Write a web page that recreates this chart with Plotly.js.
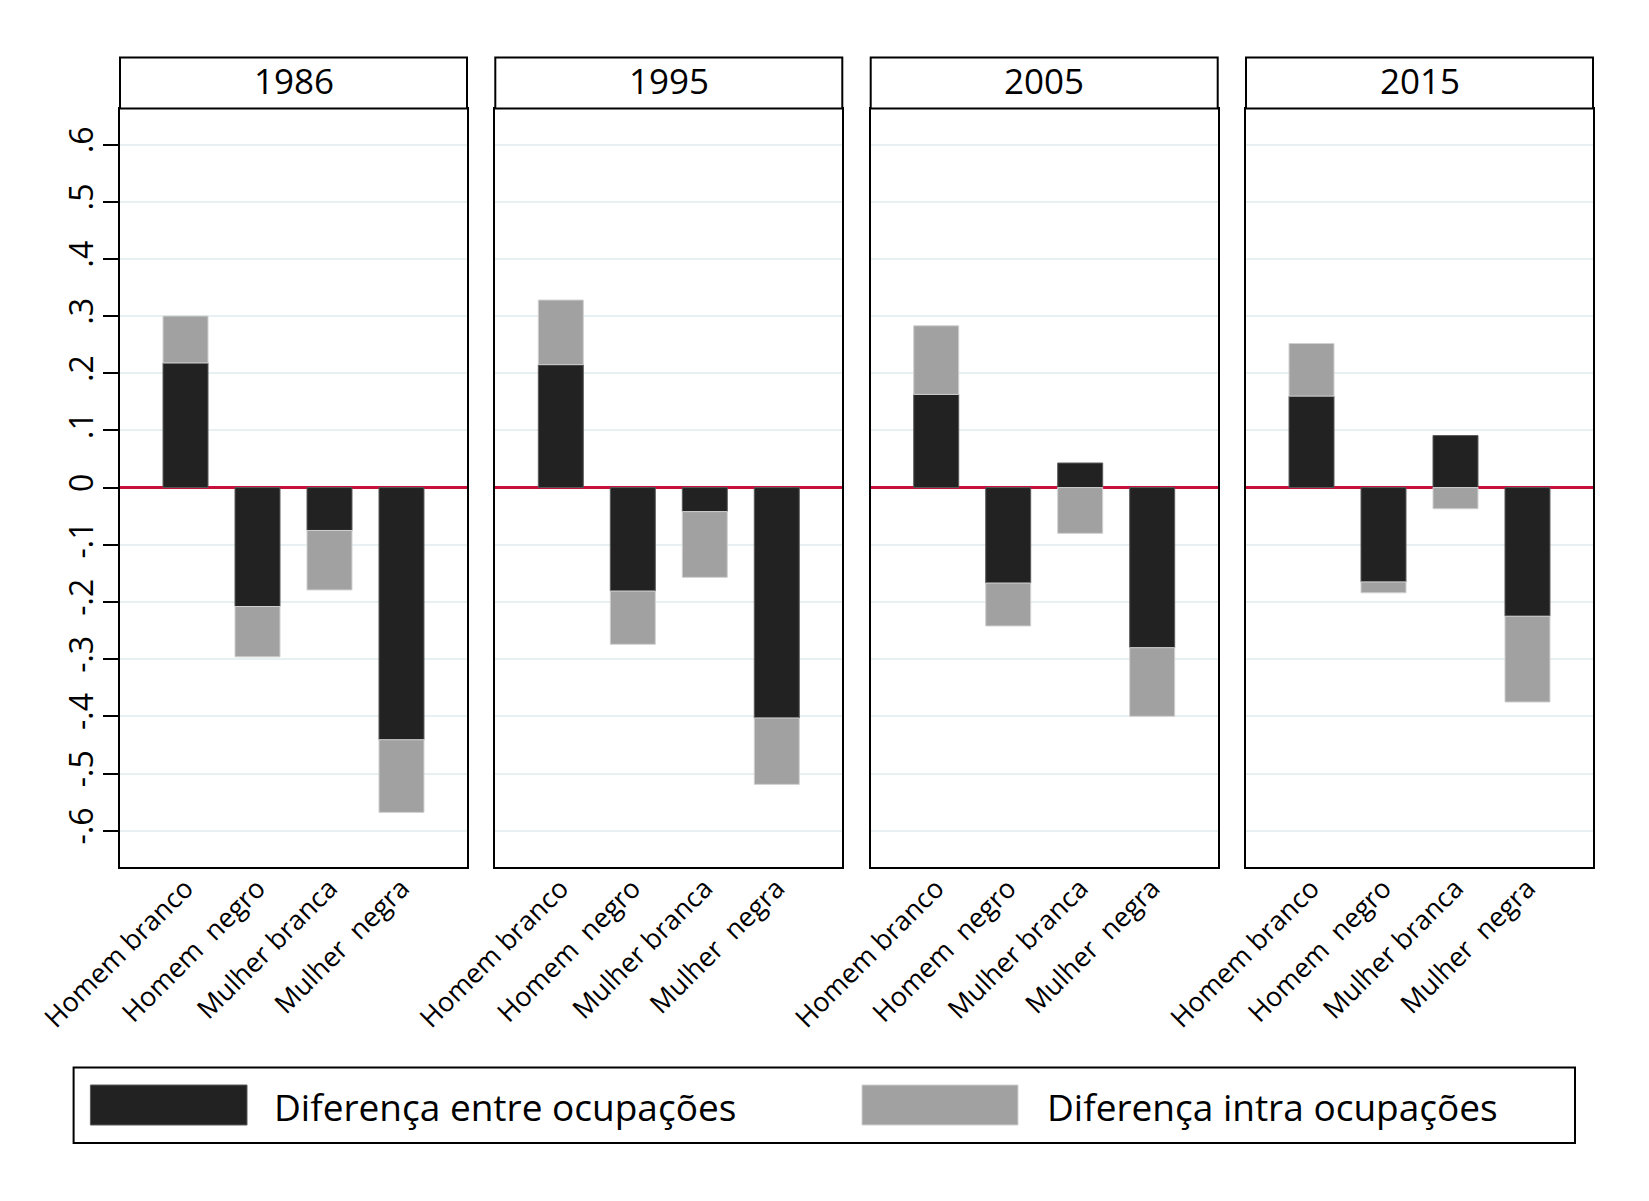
<!DOCTYPE html>
<html>
<head>
<meta charset="utf-8">
<script src="https://cdn.plot.ly/plotly-3.0.1.min.js"></script>
<style>
  html, body { margin: 0; padding: 0; background: #fff; }
  #grafico { width: 1649px; height: 1201px; }
</style>
</head>
<body>
<div id="grafico"></div>
<script>
// dados
const anos = ['1986', '1995', '2005', '2015'];
const grupos = ['Homem branco', 'Homem\u00a0 negro', 'Mulher branca', 'Mulher\u00a0 negra'];

const entre1986 = [0.218, -0.208, -0.075, -0.441];
const intra1986 = [0.082, -0.088, -0.104, -0.127];
const entre1995 = [0.215, -0.181, -0.042, -0.403];
const intra1995 = [0.113, -0.093, -0.115, -0.116];
const entre2005 = [0.163, -0.167, 0.043, -0.280];
const intra2005 = [0.120, -0.075, -0.080, -0.120];
const entre2015 = [0.160, -0.165, 0.091, -0.225];
const intra2015 = [0.092, -0.019, -0.037, -0.150];

const yTicks = [0.6, 0.5, 0.4, 0.3, 0.2, 0.1, 0, -0.1, -0.2, -0.3, -0.4, -0.5, -0.6];
const yTickText = ['.6', '.5', '.4', '.3', '.2', '.1', '0', '-.1', '-.2', '-.3', '-.4', '-.5', '-.6'];

const serieEntre = [entre1986, entre1995, entre2005, entre2015];
const serieIntra = [intra1986, intra1995, intra2005, intra2015];

// geometria da figura (pixels)
const W = 1649, H = 1201;
const fonte = 'Open Sans, sans-serif';
const painelEsq = [120, 495.3, 870.7, 1246];
const painelLarg = 347;
const topo = 108.5, base = 866.7;
const cabTopo = 57.5;

function px(x) { return x / W; }
function py(y) { return 1 - y / H; }

let data = [];
let layout = {
  width: W,
  height: H,
  margin: {l: 0, r: 0, t: 0, b: 0},
  paper_bgcolor: '#fff',
  plot_bgcolor: '#fff',
  barmode: 'relative',
  bargap: 0.375,
  showlegend: false,
  font: {family: fonte, color: '#000'},
  shapes: [],
  annotations: []
};

for (let i = 0; i < anos.length; i++) {
  let sx = i == 0 ? '' : String(i + 1);
  data.push({
    type: 'bar', x: grupos, y: serieEntre[i], name: 'Diferença entre ocupações',
    xaxis: 'x' + sx, yaxis: 'y' + sx,
    marker: {color: '#222222', line: {color: '#5a5a5a', width: 1}}
  });
  data.push({
    type: 'bar', x: grupos, y: serieIntra[i], name: 'Diferença intra ocupações',
    xaxis: 'x' + sx, yaxis: 'y' + sx,
    marker: {color: '#a1a1a1', line: {color: '#d0d0d0', width: 1}}
  });

  layout['xaxis' + sx] = {
    domain: [px(painelEsq[i]), px(painelEsq[i] + painelLarg)],
    anchor: 'y' + sx,
    type: 'category',
    range: [-0.91, 3.91],
    showline: true, mirror: true, linecolor: '#000', linewidth: 2,
    showgrid: false, zeroline: false,
    ticks: '', tickangle: -45,
    ticklabelstandoff: -7,
    tickfont: {family: fonte, size: 27, color: '#000'},
    fixedrange: true
  };
  layout['yaxis' + sx] = {
    domain: [py(base), py(topo)],
    anchor: 'x' + sx,
    range: [-0.663, 0.663],
    tickvals: yTicks,
    ticktext: yTickText,
    showticklabels: i == 0,
    ticks: i == 0 ? 'outside' : '',
    ticklen: 15, tickwidth: 2, tickcolor: '#000',
    ticklabelstandoff: -3,
    tickangle: -90,
    tickfont: {family: fonte, size: 32, color: '#000'},
    showline: true, mirror: true, linecolor: '#000', linewidth: 2,
    showgrid: true, gridcolor: '#e8f0f2', gridwidth: 2,
    zeroline: true, zerolinecolor: '#c8103c', zerolinewidth: 3,
    fixedrange: true
  };
  if (i > 0) layout['yaxis' + sx].matches = 'y';

  // cabecalho do painel
  layout.shapes.push({
    type: 'rect', xref: 'paper', yref: 'paper',
    x0: px(painelEsq[i]), x1: px(painelEsq[i] + painelLarg),
    y0: py(topo), y1: py(cabTopo),
    line: {color: '#000', width: 2}, fillcolor: '#fff'
  });
  layout.annotations.push({
    xref: 'paper', yref: 'paper',
    x: px(painelEsq[i] + painelLarg / 2), y: py((topo + cabTopo) / 2 - 2),
    text: anos[i], showarrow: false,
    xanchor: 'center', yanchor: 'middle',
    font: {family: fonte, size: 35, color: '#000'}
  });
}

// legenda desenhada a mao
layout.shapes.push({
  type: 'rect', xref: 'paper', yref: 'paper',
  x0: px(73.6), x1: px(1575), y0: py(1143), y1: py(1067.5),
  line: {color: '#000', width: 2}, fillcolor: '#fff'
});
layout.shapes.push({
  type: 'rect', xref: 'paper', yref: 'paper',
  x0: px(90.4), x1: px(247), y0: py(1125), y1: py(1085),
  line: {color: '#5a5a5a', width: 1}, fillcolor: '#222222'
});
layout.shapes.push({
  type: 'rect', xref: 'paper', yref: 'paper',
  x0: px(862), x1: px(1018), y0: py(1125), y1: py(1085),
  line: {color: '#d0d0d0', width: 1}, fillcolor: '#a1a1a1'
});
layout.annotations.push({
  xref: 'paper', yref: 'paper', x: px(272), y: py(1106),
  text: 'Diferença entre ocupações', showarrow: false,
  xanchor: 'left', yanchor: 'middle',
  font: {family: fonte, size: 37, color: '#000'}
});
layout.annotations.push({
  xref: 'paper', yref: 'paper', x: px(1045), y: py(1106),
  text: 'Diferença intra ocupações', showarrow: false,
  xanchor: 'left', yanchor: 'middle',
  font: {family: fonte, size: 37, color: '#000'}
});

Plotly.newPlot('grafico', data, layout, {displayModeBar: false, staticPlot: true});
</script>
</body>
</html>
